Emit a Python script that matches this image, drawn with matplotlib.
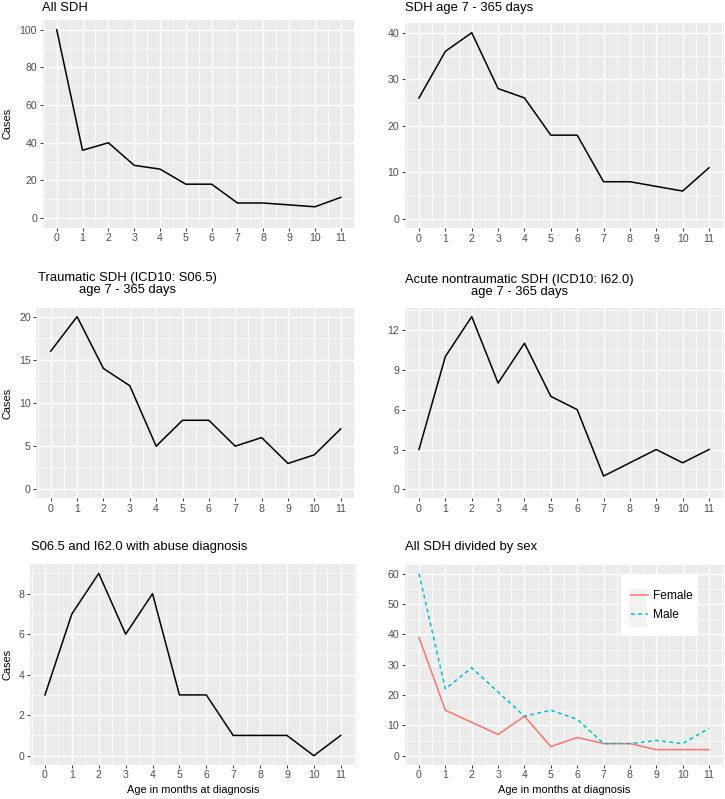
import matplotlib
matplotlib.use("Agg")
import matplotlib.pyplot as plt
from matplotlib.patches import Rectangle
import numpy as np

plt.rcParams['font.family'] = ['Liberation Sans', 'DejaVu Sans']

months = list(range(12))
all_sdh = [100, 36, 40, 28, 26, 18, 18, 8, 8, 7, 6, 11]
sdh_7_365 = [26, 36, 40, 28, 26, 18, 18, 8, 8, 7, 6, 11]
traumatic = [16, 20, 14, 12, 5, 8, 8, 5, 6, 3, 4, 7]
nontraumatic = [3, 10, 13, 8, 11, 7, 6, 1, 2, 3, 2, 3]
abuse = [3, 7, 9, 6, 8, 3, 3, 1, 1, 1, 0, 1]
female = [39, 15, 11, 7, 13, 3, 6, 4, 4, 2, 2, 2]
male = [60, 22, 29, 21, 13, 15, 12, 4, 4, 5, 4, 9]

titles = ["All SDH",
          "SDH age 7 - 365 days",
          "Traumatic SDH (ICD10: S06.5)\nage 7 - 365 days",
          "Acute nontraumatic SDH (ICD10: I62.0)\nage 7 - 365 days",
          "S06.5 and I62.0 with abuse diagnosis",
          "All SDH divided by sex"]
y_breaks = [list(range(0, 101, 20)), list(range(0, 41, 10)), list(range(0, 21, 5)),
            list(range(0, 13, 3)), list(range(0, 9, 2)), list(range(0, 61, 10))]
y_max = [100, 40, 20, 13, 9, 60]

W, H = 725, 799
DPI = 100
fig = plt.figure(figsize=(W / DPI, H / DPI), dpi=DPI)
fig.patch.set_facecolor('white')

# pixel boxes: left, top, right, bottom
boxes = [(42.5, 20.3, 355.0, 227.5),
         (404.5, 23.4, 723.5, 228.3),
         (36.2, 308.0, 355.2, 498.0),
         (404.5, 308.0, 723.5, 498.0),
         (30.2, 564.3, 355.5, 764.8),
         (404.5, 564.6, 723.5, 764.8)]
title_pos = [(42.5, 8), (404.7, 8), (37.7, 284), (404.7, 286), (30.7, 547), (404.7, 547)]

BG = '#EBEBEB'
TICKC = '#4D4D4D'


def make_ax(box):
    l, t, r, b = box
    return fig.add_axes([l / W, 1 - b / H, (r - l) / W, (b - t) / H])


axes = []
for i, box in enumerate(boxes):
    ax = make_ax(box)
    axes.append(ax)
    ax.set_facecolor(BG)
    for s in ax.spines.values():
        s.set_visible(False)
    ymax = y_max[i]
    ax.set_xlim(-0.55, 11.55)
    ax.set_ylim(-0.05 * ymax, 1.05 * ymax)
    ax.set_xticks(months)
    ax.set_xticklabels([str(m) for m in months])
    yb = y_breaks[i]
    ax.set_yticks(yb)
    ax.set_yticklabels([str(v) for v in yb])
    step = yb[1] - yb[0]
    yminor = [v + step / 2 for v in [yb[0] - step] + yb]
    yminor = [v for v in yminor if -0.05 * ymax <= v <= 1.05 * ymax]
    xminor = [m - 0.5 for m in months] + [11.5]
    ax.set_xticks(xminor, minor=True)
    ax.set_yticks(yminor, minor=True)
    ax.tick_params(which='major', length=2.5, width=0.7, color='#333333',
                   labelcolor=TICKC, labelsize=7.6, pad=1.5)
    ax.tick_params(which='minor', length=0)
    ax.grid(which='major', color='white', linewidth=1.0)
    ax.grid(which='minor', color='white', linewidth=0.5)
    ax.set_axisbelow(True)
    tx, ty = title_pos[i]
    fig.text(tx / W, 1 - ty / H, titles[i], ha='left', va='center',
             multialignment='center', fontsize=9.4, color='black', linespacing=1.05)

series = [all_sdh, sdh_7_365, traumatic, nontraumatic, abuse]
for ax, s in zip(axes[:5], series):
    ax.plot(months, s, color='black', linewidth=1.1, zorder=3)

ax6 = axes[5]
ax6.plot(months, female, color='#F8766D', linewidth=1.1, label='Female', zorder=3)
ax6.plot(months, male, color='#00BFC4', linewidth=1.1, linestyle=(0, (2.5, 2.2)),
         label='Male', zorder=3)

# legend decoration (white box + grey key background)
l6, t6, r6, b6 = boxes[5]
def ax_frac(px, py):
    return (px - l6) / (r6 - l6), (b6 - py) / (b6 - t6)

x0, y0 = ax_frac(621, 636)
x1, y1 = ax_frac(698, 575)
ax6.add_patch(Rectangle((x0, y0), x1 - x0, y1 - y0, transform=ax6.transAxes,
                        facecolor='white', edgecolor='none', zorder=4))
kx0, ky0 = ax_frac(629, 627)
kx1, ky1 = ax_frac(647, 589)
ax6.add_patch(Rectangle((kx0, ky0), kx1 - kx0, ky1 - ky0, transform=ax6.transAxes,
                        facecolor='#F2F2F2', edgecolor='none', zorder=4.5))
lx, ly = ax_frac(630, 589)
leg = ax6.legend(loc='upper left', bbox_to_anchor=(lx, ly), frameon=False,
                 fontsize=8.6, handlelength=1.4, handletextpad=0.45,
                 borderpad=0.1, borderaxespad=0, labelspacing=0.55)
leg.set_zorder(5)
for t in leg.get_texts():
    t.set_color('black')

# y labels
for i in (0, 2, 4):
    l, t, r, b = boxes[i]
    fig.text(8 / W, 1 - ((t + b) / 2) / H, 'Cases', rotation=90, ha='center',
             va='center', fontsize=7.9, color='black')
# x labels
for i in (4, 5):
    l, t, r, b = boxes[i]
    fig.text(((l + r) / 2) / W, 1 - 790 / H, 'Age in months at diagnosis',
             ha='center', va='center', fontsize=7.9, color='black')

fig.savefig('out.png', dpi=DPI)
